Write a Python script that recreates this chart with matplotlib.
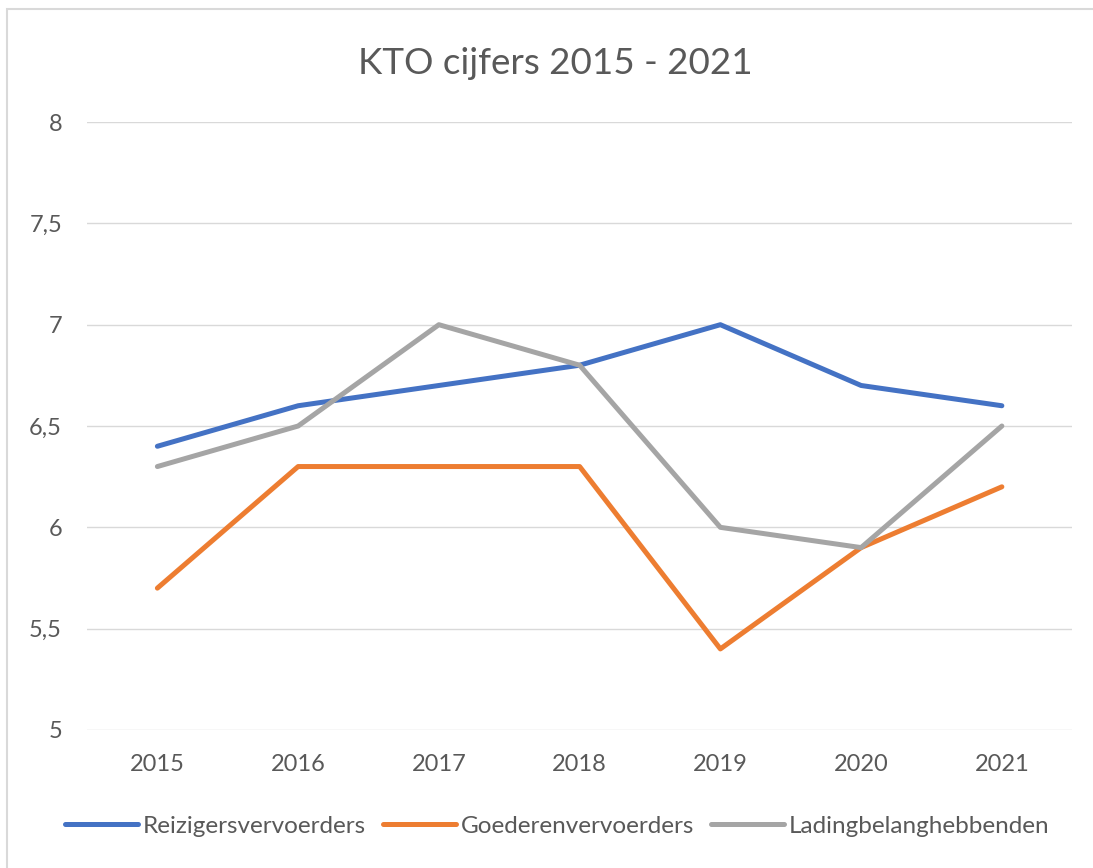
import matplotlib.pyplot as plt
from matplotlib.patches import Rectangle

plt.rcParams['font.family'] = ['Lato', 'DejaVu Sans']

years = ["2015", "2016", "2017", "2018", "2019", "2020", "2021"]
reizigers = [6.4, 6.6, 6.7, 6.8, 7.0, 6.7, 6.6]
goederen = [5.7, 6.3, 6.3, 6.3, 5.4, 5.9, 6.2]
lading = [6.3, 6.5, 7.0, 6.8, 6.0, 5.9, 6.5]
yticks = [5, 5.5, 6, 6.5, 7, 7.5, 8]
ylabels = ["5", "5,5", "6", "6,5", "7", "7,5", "8"]

txt = "#595959"

fig = plt.figure(figsize=(10.93, 8.68), dpi=100)
ax = fig.add_axes([0.0796, 0.159, 0.9014, 0.7004])

x = range(len(years))
ax.plot(x, reizigers, color="#4472C4", lw=3.6, label="Reizigersvervoerders", solid_capstyle="round")
ax.plot(x, goederen, color="#ED7D31", lw=3.6, label="Goederenvervoerders", solid_capstyle="round")
ax.plot(x, lading, color="#A5A5A5", lw=3.6, label="Ladingbelanghebbenden", solid_capstyle="round")

ax.set_xlim(-0.5, len(years) - 0.5)
ax.set_ylim(5, 8)
ax.set_yticks(yticks)
ax.set_yticklabels(ylabels)
ax.set_xticks(list(x))
ax.set_xticklabels(years)
ax.tick_params(length=0, labelsize=17, colors=txt)
ax.tick_params(axis="y", pad=18)
ax.tick_params(axis="x", pad=17)
ax.grid(axis="y", color="#D9D9D9", lw=1)
ax.set_axisbelow(True)
for s in ax.spines.values():
    s.set_visible(False)

fig.text(0.508, 0.927, "KTO cijfers 2015 - 2021", ha="center", va="center", fontsize=26.5, color=txt)

fig.legend(loc="center", bbox_to_anchor=(0.51, 0.048), ncol=3, frameon=False,
           fontsize=17.5, handlelength=3.0, handletextpad=0.2, columnspacing=0.7,
           labelcolor=txt)

fig.patches.append(Rectangle((7 / 1093, -0.1), 1.2, 1 - 9 / 868 + 0.1, transform=fig.transFigure,
                             fill=False, edgecolor="#D9D9D9", lw=1.5))

fig.savefig("out.png", dpi=100)
